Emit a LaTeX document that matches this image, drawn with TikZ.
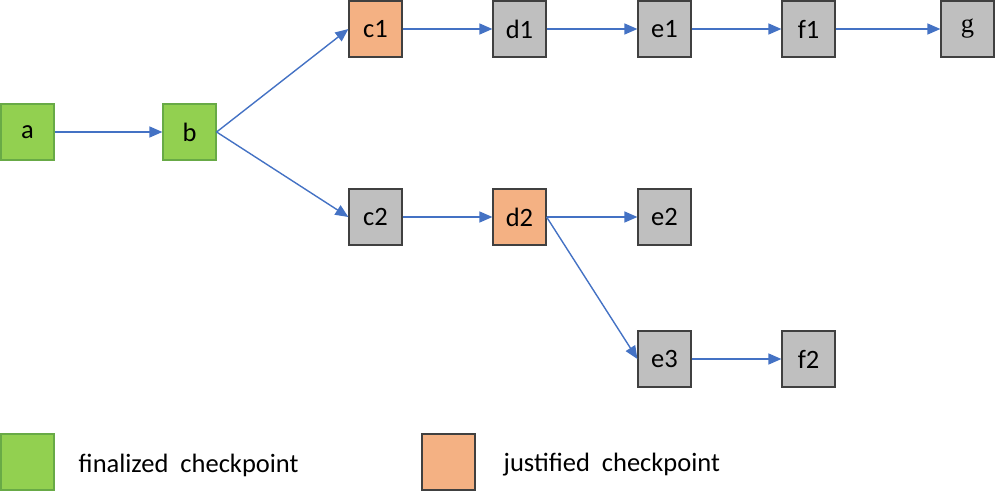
\documentclass[tikz,border=0pt]{standalone}
\usepackage{fontspec}
\setmainfont{Carlito}
\newfontfamily\serifg{Liberation Serif}
\usepackage{tikz}
\usetikzlibrary{arrows.meta}

\definecolor{final}{RGB}{146,208,80}
\definecolor{finalline}{RGB}{104,170,70}
\definecolor{justif}{RGB}{244,177,131}
\definecolor{plain}{RGB}{191,191,191}
\definecolor{boxline}{RGB}{64,64,64}
\definecolor{arrowblue}{RGB}{68,114,196}

\begin{document}
\begin{tikzpicture}[x=1pt, y=-1pt, thick,
	every node/.style={font=\fontsize{26.5}{31}\selectfont},
	main node/.style={draw=boxline, line width=1.2pt, minimum width=53pt, minimum height=56pt, inner sep=0pt},
	fin node/.style={main node, draw=finalline, fill=final},
	just node/.style={main node, fill=justif},
	grey node/.style={main node, fill=plain},
	link line/.style={draw=arrowblue, line width=1.4pt, -{Triangle[length=13pt,width=11pt]}}]
	\useasboundingbox (0,0) rectangle (995,494);
	\node[fin node] (a) at (27.5,132) {a};
	\node[fin node] (b) at (189.5,132) {b};
	\node[just node] (c1) at (375.5,29) {c1};
	\node[grey node] (d1) at (519.5,29) {d1};
	\node[grey node] (e1) at (664.5,29) {e1};
	\node[grey node] (f1) at (808.5,29) {f1};
	\node[grey node] (g) at (967.5,29) {\serifg g};
	\node[grey node] (c2) at (375.5,217) {c2};
	\node[just node] (d2) at (519.5,217) {d2};
	\node[grey node] (e2) at (664.5,217) {e2};
	\node[grey node] (e3) at (664.5,359) {e3};
	\node[grey node] (f2) at (808.5,359) {f2};
	\foreach \from/\to in {a/b, c1/d1, d1/e1, e1/f1, f1/g, c2/d2, d2/e2, e3/f2}
		\draw[link line] (\from) -- (\to);
	\draw[link line] (b.east) -- (c1.west);
	\draw[link line] (b.east) -- (c2.west);
	\draw[link line] (d2.east) -- (e3.west);
	% legend
	\node[fin node] (key1) at (27.5,462) {};
	\node[anchor=west] (key1 text) at (75,465) {finalized\ \ checkpoint};
	\node[just node] (key2) at (448.5,462) {};
	\node[anchor=west] (key2 text) at (500,465) {justified\ \ checkpoint};
\end{tikzpicture}
\end{document}
